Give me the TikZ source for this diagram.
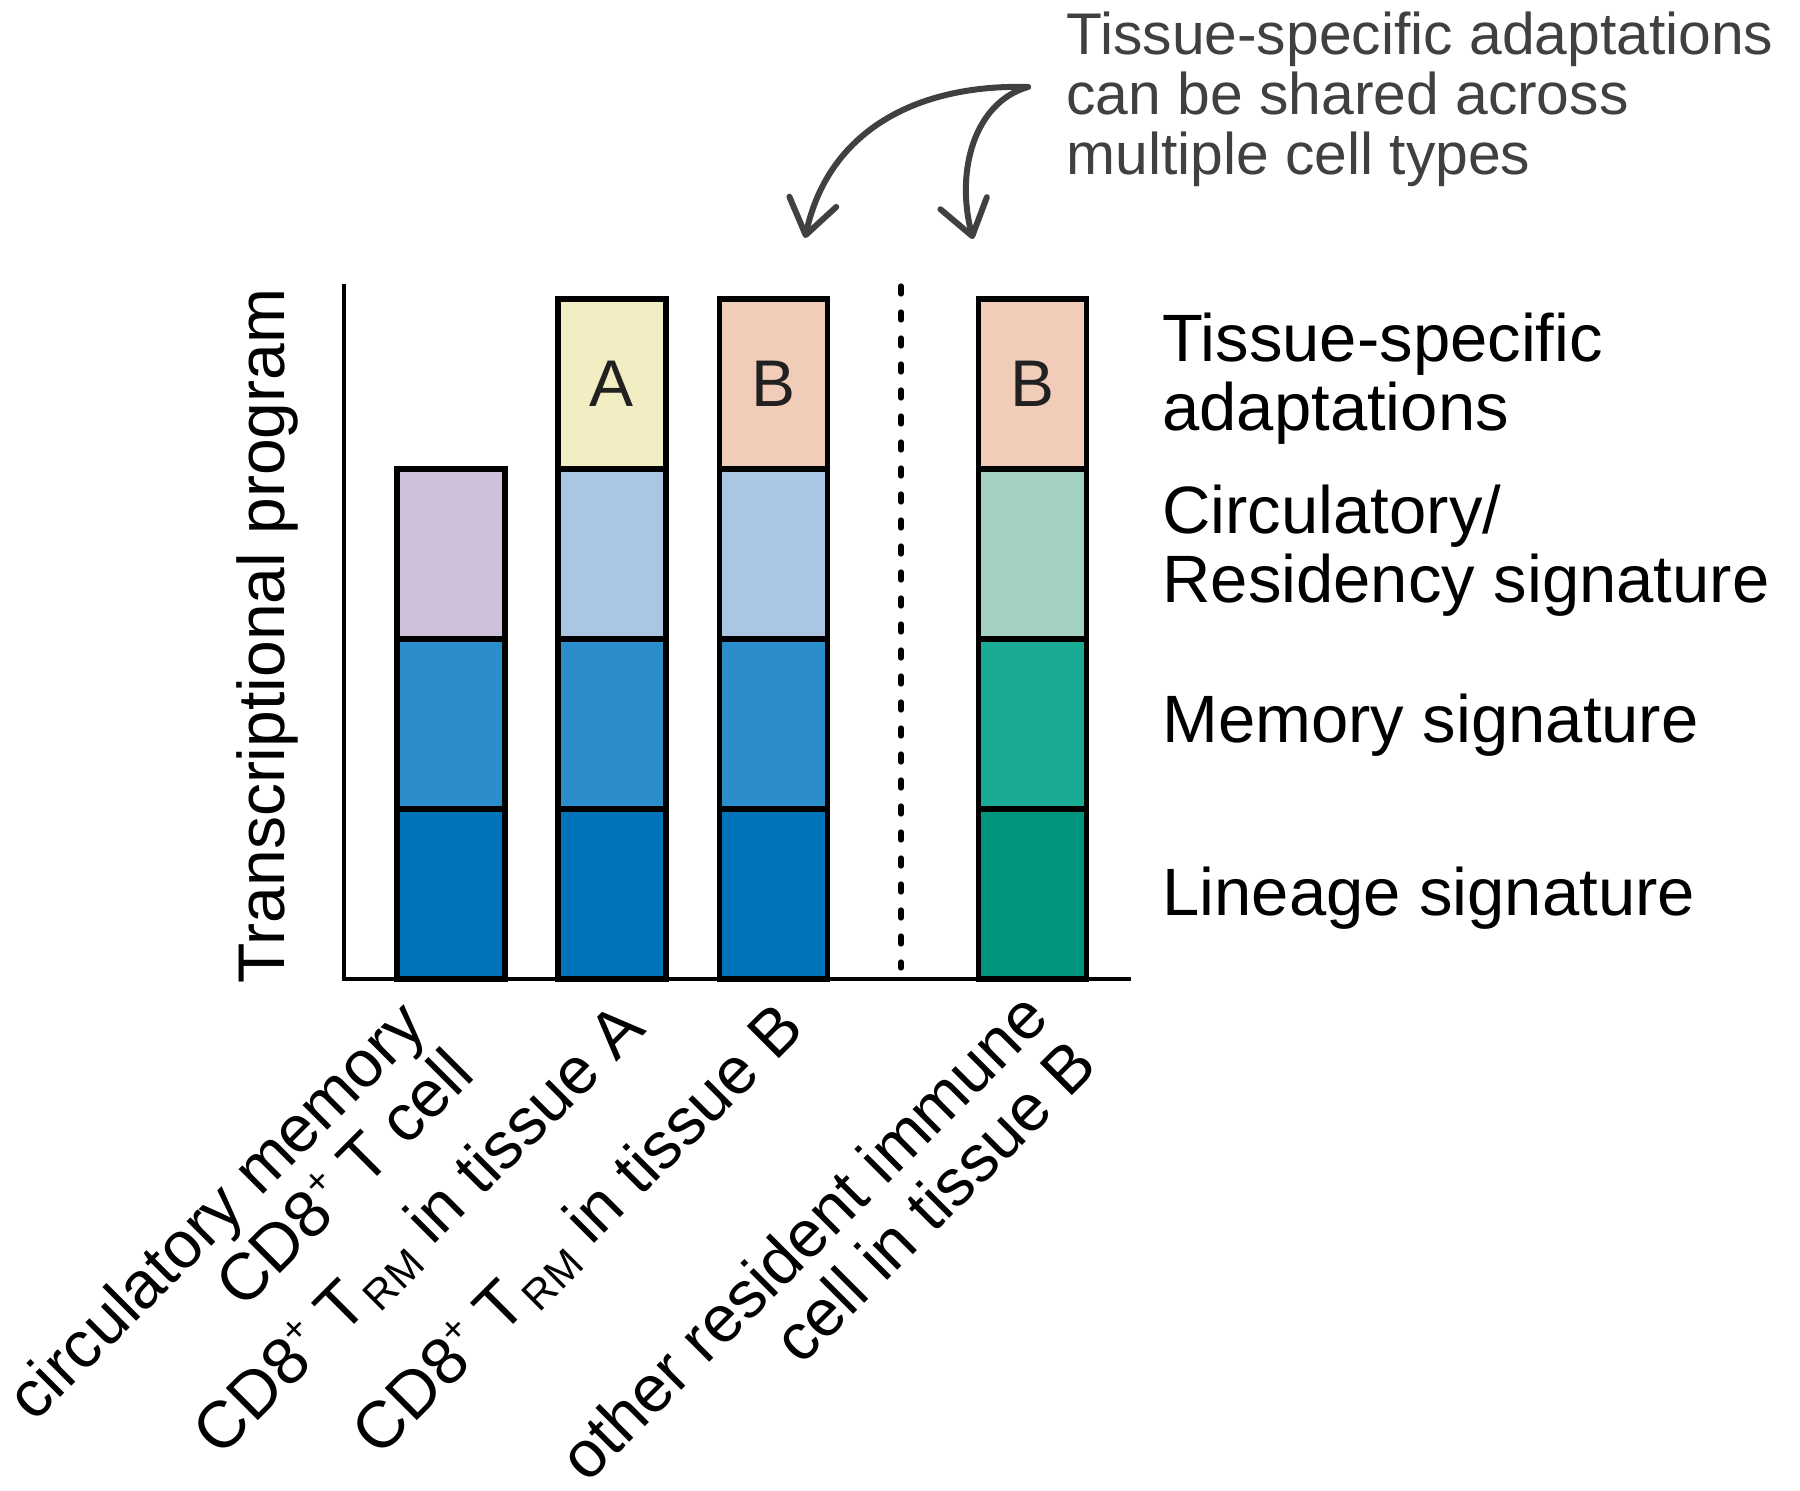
\documentclass[tikz,border=0pt]{standalone}
\usepackage{fontspec}
\setmainfont{Liberation Sans}
\usetikzlibrary{arrows.meta}
\definecolor{cPurple}{RGB}{206,193,218}
\definecolor{cLightBlue}{RGB}{171,198,226}
\definecolor{cMidBlue}{RGB}{44,141,203}
\definecolor{cDarkBlue}{RGB}{0,115,187}
\definecolor{cYellow}{RGB}{242,237,195}
\definecolor{cPeach}{RGB}{241,204,185}
\definecolor{cLightGreen}{RGB}{163,209,195}
\definecolor{cMidGreen}{RGB}{26,171,148}
\definecolor{cDarkGreen}{RGB}{0,150,125}
\definecolor{cGrayText}{RGB}{64,64,64}
\newcommand{\supplus}{\raisebox{0.75ex}{\fontsize{19}{19}\selectfont +}}
\newcommand{\subrm}{\kern1.5pt\raisebox{-0.3ex}{\fontsize{21}{21}\selectfont RM}}
\begin{document}
\begin{tikzpicture}[x=0.5pt,y=-0.5pt,
  seg/.style={draw=black,line width=2.8pt,minimum width=54pt,minimum height=85pt,
    inner sep=0pt,outer sep=0pt,font=\fontsize{33}{36}\selectfont,text=black!87},
  axisline/.style={line width=2.4pt,black},
  sidelabel/.style={anchor=base west,inner sep=0pt,font=\fontsize{33.5}{36}\selectfont},
  toplabel/.style={anchor=base west,inner sep=0pt,text=cGrayText,font=\fontsize{29.4}{31}\selectfont},
  catlabel/.style={anchor=base east,inner sep=0pt,rotate=45,font=\fontsize{33}{36}\selectfont},
  curvearrow/.style={draw=cGrayText,line width=3pt,line cap=round,
    -{Straight Barb[length=17pt,width=24pt,round]}}]
\useasboundingbox (0,0) rectangle (1800,1491);

% axes
\coordinate (ytop) at (344,284);
\coordinate (origin) at (344,979);
\coordinate (xend) at (1131,979);
\draw[axisline] (ytop) -- (origin) -- (xend);

% dotted separator
\coordinate (dtop) at (901,286);
\coordinate (dbot) at (901,968);
\draw[line width=2.6pt,line cap=round,dash pattern=on 4pt off 9pt] (dtop) -- (dbot);

% bar 1
\node[seg,fill=cDarkBlue] (b1l) at (451,894) {};
\node[seg,fill=cMidBlue] (b1m) at (451,724) {};
\node[seg,fill=cPurple] (b1c) at (451,554) {};
% bar 2
\node[seg,fill=cDarkBlue] (b2l) at (612,894) {};
\node[seg,fill=cMidBlue] (b2m) at (612,724) {};
\node[seg,fill=cLightBlue] (b2c) at (612,554) {};
\node[seg,fill=cYellow] (b2t) at (612,384) {A};
% bar 3
\node[seg,fill=cDarkBlue] (b3l) at (773.5,894) {};
\node[seg,fill=cMidBlue] (b3m) at (773.5,724) {};
\node[seg,fill=cLightBlue] (b3c) at (773.5,554) {};
\node[seg,fill=cPeach] (b3t) at (773.5,384) {B};
% bar 4
\node[seg,fill=cDarkGreen] (b4l) at (1032.5,894) {};
\node[seg,fill=cMidGreen] (b4m) at (1032.5,724) {};
\node[seg,fill=cLightGreen] (b4c) at (1032.5,554) {};
\node[seg,fill=cPeach] (b4t) at (1032.5,384) {B};

% y axis label
\node[anchor=base,inner sep=0pt,rotate=90,font=\fontsize{33}{36}\selectfont] (ylab) at (284,636) {Transcriptional program};

% right-hand labels
\node[sidelabel] (r1a) at (1162,362) {Tissue-specific};
\node[sidelabel] (r1b) at (1162,431) {adaptations};
\node[sidelabel] (r2a) at (1162,534) {Circulatory/};
\node[sidelabel] (r2b) at (1162,603) {Residency signature};
\node[sidelabel] (r3) at (1162,743) {Memory signature};
\node[sidelabel] (r4) at (1162,916) {Lineage signature};

% top annotation
\node[toplabel] (t1) at (1066,55) {Tissue-specific adaptations};
\node[toplabel] (t2) at (1066,115) {can be shared across};
\node[toplabel] (t3) at (1066,175) {multiple cell types};

% curved arrows
\coordinate (astart) at (1028,87);
\coordinate (aend1) at (805,238);
\coordinate (aend2) at (973,239);
\draw[curvearrow] (astart) .. controls (915,84) and (828,132) .. (aend1);
\draw[curvearrow] (astart) .. controls (975,102) and (955,170) .. (aend2);

% category labels
\node[catlabel] (c1a) at (429,1029) {circulatory memory};
\node[catlabel] (c1b) at (477,1077) {CD8\supplus{} T cell};
\node[catlabel] (c2) at (648,1031) {CD8\supplus{} T\subrm{} in tissue A};
\node[catlabel] (c3) at (807,1031) {CD8\supplus{} T\subrm{} in tissue B};
\node[catlabel] (c4a) at (1052,1020) {other resident immune};
\node[catlabel] (c4b) at (1100,1068) {cell in tissue B};
\end{tikzpicture}
\end{document}
